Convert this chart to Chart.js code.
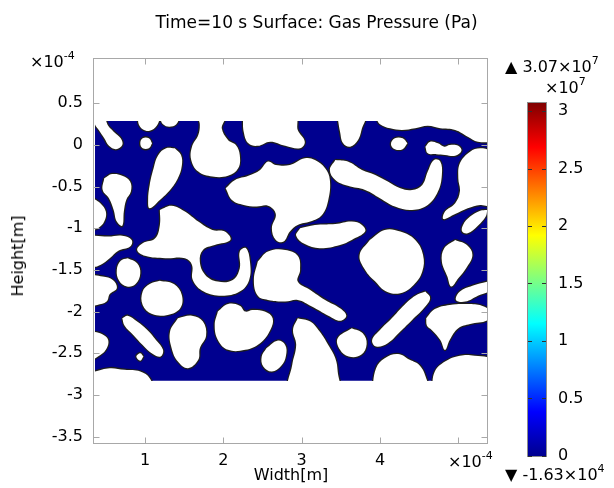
<!DOCTYPE html>
<html><head><meta charset="utf-8">
<script src="https://cdn.jsdelivr.net/npm/chart.js@4.4.1/dist/chart.umd.min.js"></script>
<style>
html,body{margin:0;padding:0;background:#fff;}
#wrap{position:relative;width:614px;height:488px;overflow:hidden;font-family:"DejaVu Sans",sans-serif;color:#000;}
canvas{position:absolute;}
.t{position:absolute;white-space:nowrap;font-size:16px;line-height:1;}
.sup{font-size:11px;position:relative;top:-8px;}
</style></head>
<body><div id="wrap">
<canvas id="main" width="614" height="488" style="left:0;top:0;width:614px;height:488px"></canvas>
<canvas id="cbar" width="114" height="488" style="left:500px;top:0;width:114px;height:488px"></canvas>
<div class="t" style="left:316.5px;top:14px;font-size:17px;transform:translateX(-50%)">Time=10 s Surface: Gas Pressure (Pa)</div>
<div class="t" style="left:291px;top:466.5px;transform:translateX(-50%)">Width[m]</div>
<div class="t" style="left:18px;top:256px;transform:translate(-50%,-50%) rotate(-90deg)">Height[m]</div>
<div class="t" style="left:30px;top:53.5px">×10<span class="sup">-4</span></div>
<div class="t" style="left:448px;top:453.5px">×10<span class="sup">-4</span></div>
<div class="t" style="left:505px;top:58.5px">▲ 3.07×10<span class="sup">7</span></div>
<div class="t" style="left:545px;top:79.5px">×10<span class="sup">7</span></div>
<div class="t" style="left:505px;top:466.5px">▼ -1.63×10<span class="sup">4</span></div>
</div>
<script>
// ---- data (lengths in units of 1e-4 m, pressure in Pa) ----
const xTicks = [1, 2, 3, 4, 5];
const yTicks = [0.5, 0, -0.5, -1, -1.5, -2, -2.5, -3, -3.5];
const xRange = [0.349, 5.379];
const yRange = [-3.59, 1.044];
const domainX = [0.362, 5.366];
const domainY = [-2.832, 0.288];
const pressureRange = [-1.63e4, 3.07e7];
const colorTicks = [0, 0.5, 1, 1.5, 2, 2.5, 3];
// outlines of the pore regions (no gas): x1,y1, x2,y2, ...
const pores = [
 [0.37,0.32, 0.48,0.32, 0.53,0.23, 0.60,0.16, 0.69,0.08, 0.71,0, 0.63,-0.05, 0.54,-0.01, 0.48,0.08, 0.41,0.18, 0.36,0.25],
 [0.91,0.32, 1.17,0.32, 1.15,0.23, 1.06,0.17, 0.97,0.19, 0.92,0.25],
 [1.19,0.32, 1.42,0.32, 1.40,0.25, 1.31,0.22, 1.23,0.25],
 [1.09,0.02, 1.05,-0.04, 0.97,-0.04, 0.94,0.02, 0.97,0.08, 1.05,0.08],
 [1.38,-0.04, 1.46,-0.12, 1.47,-0.25, 1.42,-0.40, 1.32,-0.54, 1.19,-0.66, 1.06,-0.76, 1.04,-0.66, 1.06,-0.48, 1.11,-0.28, 1.17,-0.12, 1.27,-0.04],
 [1.68,0.32, 2.01,0.32, 1.98,0.20, 2.06,0.06, 2.16,0, 2.21,-0.12, 2.19,-0.28, 2.06,-0.37, 1.86,-0.38, 1.68,-0.32, 1.59,-0.18, 1.60,-0.02, 1.68,0.12, 1.70,0.24],
 [2.25,0.32, 2.92,0.32, 2.95,0.18, 3.04,0.04, 2.98,-0.04, 2.79,-0.01, 2.60,0.04, 2.44,-0.01, 2.32,0.02, 2.26,0.16],
 [3.46,0.32, 3.80,0.32, 3.77,0.20, 3.72,0.06, 3.62,-0.02, 3.53,0.02, 3.49,0.16],
 [3.95,0.32, 5.41,0.32, 5.41,0.06, 5.25,0.04, 5.12,0.10, 4.96,0.18, 4.77,0.20, 4.61,0.23, 4.45,0.20, 4.28,0.18, 4.13,0.20, 4.00,0.25],
 [4.35,0.02, 4.29,-0.05, 4.19,-0.05, 4.14,0.01, 4.19,0.08, 4.29,0.08],
 [4.58,-0.02, 4.64,0.04, 4.74,0.02, 4.82,-0.02, 4.89,0, 5.00,-0.01, 5.04,-0.07, 4.96,-0.13, 4.83,-0.12, 4.72,-0.11, 4.61,-0.10],
 [5.41,-0.06, 5.41,-0.72, 5.28,-0.72, 5.12,-0.76, 4.96,-0.83, 4.81,-0.89, 4.83,-0.80, 4.96,-0.70, 5.02,-0.56, 5.00,-0.40, 5.02,-0.22, 5.15,-0.08, 5.28,-0.04],
 [5.37,-0.78, 5.35,-0.86, 5.25,-0.97, 5.12,-1.06, 5.05,-1.04, 5.06,-0.96, 5.15,-0.86, 5.28,-0.79],
 [3.43,-0.18, 3.59,-0.20, 3.77,-0.30, 3.94,-0.36, 4.10,-0.44, 4.26,-0.52, 4.41,-0.54, 4.54,-0.48, 4.61,-0.32, 4.69,-0.18, 4.77,-0.20, 4.79,-0.36, 4.74,-0.56, 4.61,-0.72, 4.41,-0.78, 4.19,-0.74, 4.00,-0.64, 3.81,-0.54, 3.59,-0.49, 3.43,-0.42, 3.36,-0.30],
 [0.48,-0.40, 0.58,-0.35, 0.71,-0.37, 0.81,-0.44, 0.82,-0.56, 0.76,-0.66, 0.73,-0.80, 0.71,-0.97, 0.64,-0.92, 0.60,-0.78, 0.54,-0.64, 0.46,-0.54],
 [0.34,-0.64, 0.43,-0.70, 0.50,-0.80, 0.48,-0.92, 0.40,-1.00, 0.34,-1.00],
 [2.03,-0.52, 2.15,-0.42, 2.32,-0.37, 2.47,-0.30, 2.57,-0.20, 2.67,-0.24, 2.85,-0.24, 3.04,-0.16, 3.17,-0.18, 3.30,-0.28, 3.36,-0.42, 3.34,-0.66, 3.26,-0.84, 3.11,-0.92, 2.95,-0.96, 2.85,-1.04, 2.77,-1.16, 2.67,-1.14, 2.62,-1.00, 2.67,-0.83, 2.57,-0.73, 2.42,-0.74, 2.26,-0.72, 2.11,-0.66],
 [2.98,-1.00, 3.17,-0.96, 3.43,-0.95, 3.64,-0.92, 3.77,-0.96, 3.81,-1.04, 3.64,-1.14, 3.49,-1.20, 3.23,-1.24, 3.04,-1.19, 2.93,-1.09],
 [1.19,-0.78, 1.34,-0.73, 1.51,-0.80, 1.68,-0.92, 1.86,-1.02, 2.02,-1.04, 2.09,-1.14, 1.89,-1.20, 1.74,-1.26, 1.70,-1.40, 1.77,-1.56, 1.93,-1.64, 2.12,-1.62, 2.21,-1.48, 2.21,-1.28, 2.29,-1.24, 2.34,-1.40, 2.33,-1.62, 2.21,-1.76, 1.98,-1.81, 1.75,-1.76, 1.61,-1.62, 1.60,-1.44, 1.51,-1.36, 1.26,-1.36, 1.00,-1.33, 0.90,-1.26, 0.97,-1.18, 1.13,-1.12, 1.19,-0.96],
 [0.34,-1.09, 0.53,-1.10, 0.71,-1.09, 0.83,-1.14, 0.81,-1.22, 0.66,-1.27, 0.55,-1.36, 0.43,-1.44, 0.34,-1.45],
 [0.78,-1.36, 0.90,-1.42, 0.94,-1.54, 0.88,-1.67, 0.77,-1.70, 0.67,-1.63, 0.64,-1.50, 0.69,-1.39],
 [1.19,-1.63, 1.37,-1.67, 1.47,-1.80, 1.45,-1.96, 1.29,-2.04, 1.09,-2.03, 0.97,-1.92, 0.97,-1.76, 1.06,-1.67],
 [0.34,-1.56, 0.46,-1.58, 0.59,-1.62, 0.64,-1.72, 0.55,-1.79, 0.51,-1.88, 0.39,-1.92, 0.34,-1.92],
 [0.71,-2.08, 0.78,-2.05, 0.90,-2.12, 1.03,-2.22, 1.14,-2.34, 1.23,-2.46, 1.20,-2.54, 1.10,-2.51, 0.97,-2.40, 0.85,-2.28, 0.74,-2.17],
 [0.98,-2.54, 0.94,-2.59, 0.89,-2.54, 0.94,-2.50],
 [0.34,-2.24, 0.45,-2.27, 0.53,-2.34, 0.50,-2.46, 0.40,-2.54, 0.34,-2.56],
 [1.42,-2.08, 1.60,-2.05, 1.74,-2.12, 1.78,-2.29, 1.70,-2.44, 1.68,-2.58, 1.55,-2.68, 1.42,-2.60, 1.34,-2.44, 1.32,-2.24],
 [1.93,-2.00, 2.06,-1.91, 2.21,-1.93, 2.28,-2.00, 2.37,-1.98, 2.53,-2.00, 2.63,-2.08, 2.60,-2.22, 2.47,-2.38, 2.28,-2.46, 2.06,-2.46, 1.93,-2.34, 1.89,-2.16],
 [2.55,-2.44, 2.69,-2.35, 2.79,-2.40, 2.80,-2.53, 2.74,-2.65, 2.62,-2.72, 2.51,-2.66, 2.49,-2.54],
 [0.36,-2.72, 0.55,-2.68, 0.74,-2.70, 0.94,-2.72, 1.06,-2.80, 1.09,-2.94, 0.34,-2.94],
 [2.44,-1.40, 2.57,-1.28, 2.79,-1.26, 2.95,-1.33, 2.98,-1.50, 2.95,-1.64, 3.11,-1.74, 3.30,-1.86, 3.49,-1.96, 3.57,-2.05, 3.49,-2.11, 3.34,-2.05, 3.13,-1.94, 2.95,-1.86, 2.79,-1.88, 2.57,-1.86, 2.44,-1.81, 2.39,-1.62],
 [2.95,-2.08, 3.11,-2.12, 3.23,-2.24, 3.34,-2.40, 3.43,-2.56, 3.46,-2.72, 3.46,-2.94, 2.85,-2.94, 2.88,-2.64, 2.93,-2.40, 2.89,-2.22],
 [3.64,-2.20, 3.78,-2.26, 3.83,-2.39, 3.76,-2.52, 3.60,-2.54, 3.49,-2.46, 3.46,-2.32],
 [3.87,-1.14, 4.06,-1.02, 4.26,-1.04, 4.45,-1.14, 4.55,-1.32, 4.54,-1.52, 4.43,-1.68, 4.26,-1.78, 4.08,-1.76, 3.94,-1.64, 3.81,-1.50, 3.74,-1.32],
 [4.96,-1.14, 5.11,-1.20, 5.18,-1.32, 5.10,-1.48, 5.00,-1.60, 4.91,-1.70, 4.86,-1.58, 4.79,-1.40, 4.82,-1.24],
 [5.37,-1.64, 5.41,-1.74, 5.25,-1.81, 5.09,-1.88, 4.97,-1.86, 5.02,-1.76, 5.18,-1.69],
 [4.58,-1.76, 4.64,-1.84, 4.56,-1.96, 4.41,-2.10, 4.26,-2.24, 4.10,-2.38, 3.95,-2.42, 3.90,-2.34, 4.00,-2.22, 4.15,-2.08, 4.31,-1.92, 4.45,-1.81],
 [4.59,-2.08, 4.70,-1.97, 4.89,-1.92, 5.12,-1.91, 5.30,-1.93, 5.41,-2.00, 5.38,-2.10, 5.15,-2.15, 5.00,-2.20, 4.89,-2.34, 4.83,-2.46, 4.77,-2.34, 4.66,-2.22, 4.60,-2.17],
 [3.90,-2.94, 3.95,-2.68, 4.06,-2.56, 4.23,-2.51, 4.38,-2.58, 4.51,-2.65, 4.59,-2.80, 4.61,-2.94],
 [4.66,-2.94, 4.70,-2.72, 4.83,-2.60, 5.02,-2.53, 5.21,-2.53, 5.41,-2.58, 5.41,-2.94]
];

// ---- styling ----
Chart.defaults.font.family = 'DejaVu Sans';
Chart.defaults.color = '#000';
const matrixColor = '#00008f';
const jetStops = [[0,'rgb(0,0,143)'],[0.125,'rgb(0,0,255)'],[0.375,'rgb(0,255,255)'],[0.625,'rgb(255,255,0)'],[0.875,'rgb(255,0,0)'],[1,'rgb(128,0,0)']];

const domainPoly = [
  {x: domainX[0], y: domainY[0]}, {x: domainX[1], y: domainY[0]},
  {x: domainX[1], y: domainY[1]}, {x: domainX[0], y: domainY[1]}, {x: domainX[0], y: domainY[0]}
];
function loopPts(a) {
  const p = [];
  for (let i = 0; i < a.length; i += 2) p.push({x: a[i], y: a[i + 1]});
  p.push({x: a[0], y: a[1]});
  return p;
}
const outlineSets = pores.map(a => ({type: 'line', order: 50, data: loopPts(a), tension: 0.4, fill: false,
  borderColor: '#1e1e1e', borderWidth: 2.6, pointRadius: 0}));
const fillSets = pores.map(a => ({type: 'line', order: 1, data: loopPts(a), tension: 0.4, fill: 'shape',
  backgroundColor: '#ffffff', borderColor: 'rgba(0,0,0,0)', borderWidth: 0, pointRadius: 0}));

const domainClip = {
  id: 'domainClip',
  beforeDatasetsDraw(chart) {
    const {x, y} = chart.scales, c = chart.ctx;
    const l = Math.round(x.getPixelForValue(domainX[0])), r = Math.round(x.getPixelForValue(domainX[1]));
    const t = Math.round(y.getPixelForValue(domainY[1])), b = Math.round(y.getPixelForValue(domainY[0]));
    c.save(); c.beginPath(); c.rect(l, t, r - l, b - t); c.clip();
  },
  afterDatasetsDraw(chart) { chart.ctx.restore(); }
};
const frame = {
  id: 'frame',
  afterDraw(chart) {
    const {ctx, chartArea: a, scales: {x, y}} = chart;
    ctx.save();
    ctx.strokeStyle = '#a8a8a8'; ctx.lineWidth = 1;
    const L = Math.round(a.left) - 0.5, R = Math.round(a.right) - 0.5, T = Math.round(a.top) + 0.5, B = Math.round(a.bottom) - 0.5;
    ctx.strokeRect(L, T, R - L, B - T);
    ctx.beginPath();
    xTicks.forEach(v => { const p = Math.round(x.getPixelForValue(v)) + 0.5; ctx.moveTo(p, B); ctx.lineTo(p, B - 6); ctx.moveTo(p, T); ctx.lineTo(p, T + 6); });
    yTicks.forEach(v => { const p = Math.round(y.getPixelForValue(v)) + 0.5; ctx.moveTo(L, p); ctx.lineTo(L + 6, p); ctx.moveTo(R, p); ctx.lineTo(R - 6, p); });
    ctx.stroke();
    ctx.restore();
  }
};

new Chart(document.getElementById('main'), {
  type: 'scatter',
  data: {
    datasets: [
      {type: 'line', order: 100, data: domainPoly, fill: 'shape', backgroundColor: matrixColor, borderColor: 'rgba(0,0,0,0)', borderWidth: 0, pointRadius: 0, tension: 0},
      ...outlineSets,
      ...fillSets
    ]
  },
  options: {
    responsive: false, animation: false, events: [],
    layout: {padding: {top: 58, right: 126, left: 0, bottom: 0}},
    plugins: {legend: {display: false}, tooltip: {enabled: false}},
    scales: {
      x: {type: 'linear', min: xRange[0], max: xRange[1],
          afterBuildTicks: s => { s.ticks = xTicks.map(v => ({value: v})); },
          afterFit: s => { s.height = 44; },
          grid: {display: false, drawTicks: false}, border: {display: false},
          ticks: {padding: 7, font: {size: 16}, maxRotation: 0, autoSkip: false, callback: v => (v === 5 ? '' : String(v))}},
      y: {type: 'linear', min: yRange[0], max: yRange[1],
          afterBuildTicks: s => { s.ticks = yTicks.map(v => ({value: v})); },
          afterFit: s => { s.width = 94; },
          grid: {display: false, drawTicks: false}, border: {display: false},
          ticks: {padding: 11, font: {size: 16}, autoSkip: false, callback: v => String(v)}}
    }
  },
  plugins: [domainClip, frame]
});

// ---- colour bar ----
function jetGradient(chart) {
  const a = chart.chartArea;
  if (!a) return matrixColor;
  const y = chart.scales.y;
  const g = chart.ctx.createLinearGradient(0, y.getPixelForValue(pressureRange[0] / 1e7), 0, y.getPixelForValue(pressureRange[1] / 1e7));
  jetStops.forEach(s => g.addColorStop(s[0], s[1]));
  return g;
}
const cbarDeco = {
  id: 'cbarDeco',
  afterDraw(chart) {
    const {ctx, chartArea: a, scales: {y}} = chart;
    ctx.save();
    ctx.strokeStyle = '#8c8c8c'; ctx.lineWidth = 1;
    ctx.strokeRect(Math.round(a.left) - 0.5, Math.round(a.top) - 0.5, Math.round(a.right - a.left) + 1, Math.round(a.bottom - a.top) + 1);
    ctx.strokeStyle = '#303030';
    ctx.beginPath();
    colorTicks.forEach(v => { const p = Math.round(y.getPixelForValue(v)) + 0.5; ctx.moveTo(a.left, p); ctx.lineTo(a.left + 4, p); ctx.moveTo(a.right, p); ctx.lineTo(a.right - 4, p); });
    ctx.stroke();
    ctx.restore();
  }
};
new Chart(document.getElementById('cbar'), {
  type: 'bar',
  data: {labels: ['p'], datasets: [{data: [[pressureRange[0] / 1e7, pressureRange[1] / 1e7]], backgroundColor: ctx => jetGradient(ctx.chart), borderWidth: 0, categoryPercentage: 1, barPercentage: 1}]},
  options: {
    responsive: false, animation: false, events: [],
    layout: {padding: {left: 28, top: 103, bottom: 32, right: 0}},
    plugins: {legend: {display: false}, tooltip: {enabled: false}},
    scales: {
      x: {display: false},
      y: {position: 'right', min: pressureRange[0] / 1e7, max: pressureRange[1] / 1e7,
          afterBuildTicks: s => { s.ticks = colorTicks.map(v => ({value: v})); },
          afterFit: s => { s.width = 68; },
          grid: {display: false, drawTicks: false}, border: {display: false},
          ticks: {padding: 12, font: {size: 16}, autoSkip: false, callback: v => String(v)}}
    }
  },
  plugins: [cbarDeco]
});
</script>
</body></html>
